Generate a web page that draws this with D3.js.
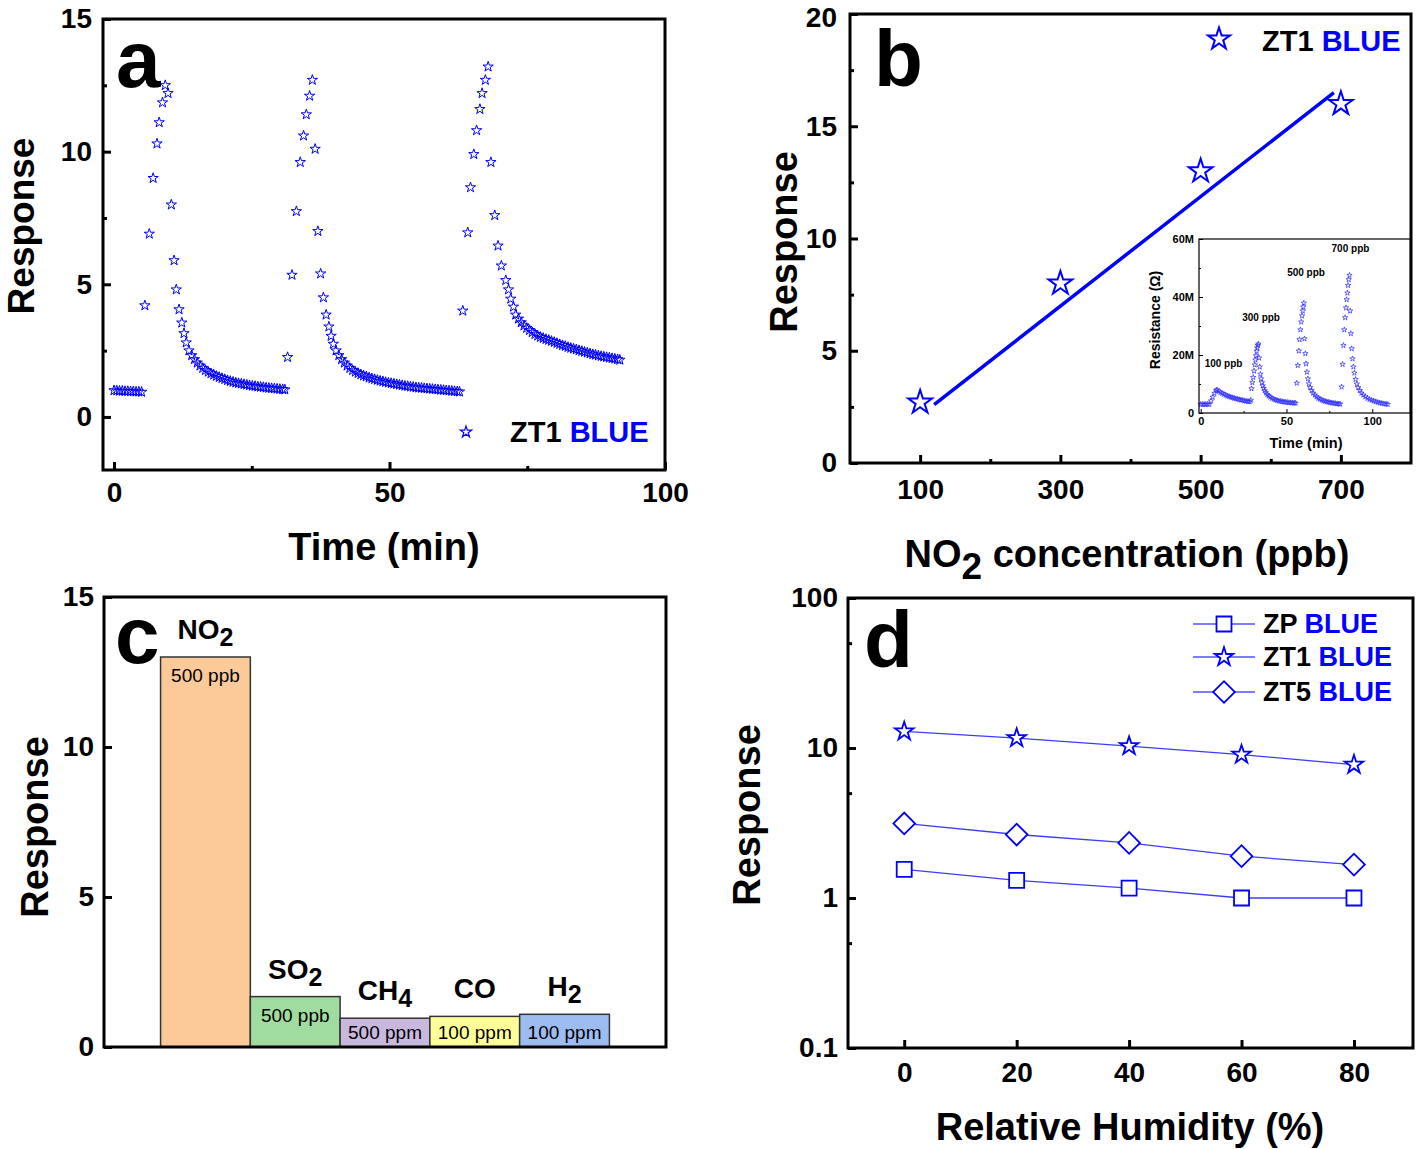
<!DOCTYPE html>
<html>
<head>
<meta charset="utf-8">
<script src="https://cdn.jsdelivr.net/npm/d3@7"></script>
<style>
  body { margin: 0; background: #fff; }
  svg { display: block; }
</style>
</head>
<body>
<svg id="chart" width="1418" height="1149"></svg>
<script>
// ---- panel a : response vs time, ZT1 BLUE (three NO2 pulses) ----
var cycleA1 = [[0,1.00],[0.5,0.99],[1,0.98],[1.5,0.98],[2,0.97],[2.5,0.97],[3,0.96],[3.5,0.96],[4,0.95],[4.5,0.95],[5,0.94],
  [5.6,4.2],[6.4,6.9],[7.1,9.0],[7.8,10.3],[8.2,11.1],[8.8,11.85],[9.3,12.5],[9.8,12.2],
  [10.4,8.0],[10.9,5.9],[11.3,4.8],[11.8,4.05],[12.3,3.55],[12.7,3.15],[13.1,2.8],[13.6,2.5],
  [14.1,2.32],[14.6,2.17],[15.1,2.04],[15.6,1.93],[16.1,1.84],[16.6,1.76],[17.1,1.70],[17.6,1.64],[18.1,1.59],[18.6,1.54],
  [19.1,1.50],[19.6,1.46],[20.1,1.42],[20.6,1.38],[21.1,1.35],[21.6,1.32],[22.1,1.29],[22.6,1.27],[23.1,1.25],[23.6,1.23],
  [24.1,1.21],[24.6,1.19],[25.1,1.17],[25.6,1.16],[26.1,1.14],[26.6,1.13],[27.1,1.12],[27.6,1.10],[28.1,1.09],[28.6,1.08],
  [29.1,1.07],[29.6,1.06],[30.1,1.05],[30.6,1.04],[31.0,1.03]];
var cycleA2 = [[31.5,2.25],[32.3,5.35],[33.1,7.75],[33.8,9.6],[34.4,10.6],[34.9,11.4],[35.5,12.1],[36.0,12.7],
  [36.5,10.1],[37.0,7.0],[37.5,5.4],[38.0,4.5],[38.5,3.85],[39.0,3.4],[39.4,3.05],[39.8,2.75],
  [40.3,2.5],[40.8,2.32],[41.3,2.17],[41.8,2.04],[42.3,1.93],[42.8,1.84],[43.3,1.76],[43.8,1.70],[44.3,1.65],[44.8,1.60],
  [45.3,1.56],[45.8,1.52],[46.3,1.48],[46.8,1.45],[47.3,1.42],[47.8,1.39],[48.3,1.36],[48.8,1.34],[49.3,1.31],[49.8,1.29],
  [50.3,1.27],[50.8,1.25],[51.3,1.23],[51.8,1.21],[52.3,1.19],[52.8,1.17],[53.3,1.16],[53.8,1.14],[54.3,1.13],[54.8,1.11],
  [55.3,1.10],[55.8,1.09],[56.3,1.08],[56.8,1.07],[57.3,1.06],[57.8,1.05],[58.3,1.04],[58.8,1.03],[59.3,1.02],[59.8,1.01],
  [60.3,1.00],[60.8,0.99],[61.3,0.98],[61.8,0.97],[62.3,0.96],[62.7,0.95]];
var cycleA3 = [[63.3,4.0],[64.2,6.95],[64.7,8.65],[65.3,9.9],[65.8,10.8],[66.4,11.6],[66.8,12.2],[67.4,12.7],[67.9,13.2],
  [68.4,9.6],[69.1,7.6],[69.7,6.45],[70.3,5.7],[71.1,5.15],[71.6,4.8],[72.0,4.45],[72.5,4.15],[72.9,3.85],
  [73.4,3.70],[73.9,3.56],[74.4,3.44],[74.9,3.35],[75.4,3.27],[75.9,3.19],[76.4,3.12],[76.9,3.06],[77.4,3.01],[77.9,2.97],
  [78.4,2.93],[78.9,2.90],[79.4,2.86],[79.9,2.82],[80.4,2.78],[80.9,2.74],[81.4,2.70],[81.9,2.67],[82.4,2.63],[82.9,2.60],
  [83.4,2.57],[83.9,2.54],[84.4,2.51],[84.9,2.48],[85.4,2.45],[85.9,2.42],[86.4,2.39],[86.9,2.36],[87.4,2.34],[87.9,2.31],
  [88.4,2.29],[88.9,2.27],[89.4,2.25],[89.9,2.23],[90.4,2.21],[90.9,2.19],[91.4,2.17],[91.8,2.15]];

// ---- panel b : response vs NO2 concentration ----
var ppbB = [100, 300, 500, 700];
var respB = [2.7, 8.0, 13.0, 16.0];
var fitB = [[120, 2.6], [690, 16.5]];

// inset of panel b : resistance (MOhm) vs time (min)
var insetC1 = [[0,3.0],[1,3.0],[2,3.0],[3,3.0],[4,3.0],[5,3.0],[6,4.2],[7,5.5],[8,6.8],[9,7.8],[9.5,8.0],
  [10.5,7.5],[11.5,7.1],[12.5,6.8],[13.5,6.5],[14.5,6.2],[15.5,5.9],[16.5,5.7],[17.5,5.5],[18.5,5.3],[19.5,5.1],
  [20.5,4.95],[21.5,4.8],[22.5,4.65],[23.5,4.5],[24.5,4.4],[25.5,4.25],[26.5,4.1],[27.5,4.0],[28.5,3.9]];
var insetC2 = [[29.2,4.4],[29.6,8.4],[30.1,10.5],[30.6,12.3],[31.1,14.5],[31.5,16.6],[31.9,18.3],[32.3,19.8],[32.6,21.3],
  [32.9,22.5],[33.3,23.3],[33.6,23.8],[34.0,19.0],[34.4,15.9],[34.8,13.4],[35.2,11.8],[35.7,10.5],[36.2,9.4],[36.7,8.5],
  [37.3,7.7],[38.0,7.0],[38.8,6.4],[39.6,5.9],[40.5,5.5],[41.5,5.1],[42.5,4.8],[43.5,4.55],[44.5,4.35],[45.5,4.2],
  [46.5,4.05],[47.5,3.95],[48.5,3.85],[49.5,3.75],[50.5,3.7],[51.5,3.6],[52.5,3.55],[53.5,3.5],[54.5,3.45],[55.3,3.4]];
var insetC3 = [[56.0,10.3],[56.6,16.4],[57.2,21.4],[57.6,25.3],[58.1,28.7],[58.6,31.4],[59.1,33.5],[59.5,35.2],[59.8,36.6],
  [60.1,37.9],[60.5,25.6],[61.0,20.5],[61.4,17.0],[61.9,14.1],[62.5,11.8],[63.1,10.1],[63.8,8.8],[64.6,7.8],[65.5,6.9],
  [66.5,6.2],[67.5,5.6],[68.5,5.15],[69.5,4.8],[70.5,4.5],[71.5,4.25],[72.5,4.05],[73.5,3.9],[74.5,3.75],[75.5,3.6],
  [76.5,3.5],[77.5,3.4],[78.5,3.3],[79.5,3.2],[80.5,3.15],[81.3,3.1]];
var insetC4 = [[82.1,9.0],[82.7,16.8],[83.2,23.3],[83.7,28.7],[84.2,32.9],[84.7,36.3],[85.1,39.1],[85.5,41.4],[85.9,44.0],
  [86.3,46.0],[86.7,47.5],[87.1,35.2],[87.5,27.4],[88.0,22.2],[88.5,18.7],[89.0,15.9],[89.6,13.8],[90.3,11.6],[91.0,10.0],
  [91.8,8.8],[92.7,7.8],[93.7,6.9],[94.8,6.2],[96.0,5.6],[97.2,5.1],[98.4,4.7],[99.6,4.4],[100.8,4.15],[102.0,3.9],
  [103.2,3.7],[104.4,3.5],[105.6,3.35],[106.8,3.2],[108.0,3.1],[109.0,3.0]];
var insetNotes = [["100 ppb", 13.3, 17.2], ["300 ppb", 35.2, 32.8], ["500 ppb", 61.4, 48.3], ["700 ppb", 87.3, 56.6]];

// ---- panel c : selectivity ----
var gases = ["NO2", "SO2", "CH4", "CO", "H2"];
var gasMain = ["NO", "SO", "CH", "CO", "H"];
var gasSub = ["2", "2", "4", "", "2"];
var respC = [13.0, 1.68, 0.96, 1.02, 1.09];
var concC = ["500 ppb", "500 ppb", "500 ppm", "100 ppm", "100 ppm"];
var colorC = ["#fcc999", "#a0dca0", "#c9b8de", "#ffff99", "#9dbcf0"];

// ---- panel d : humidity ----
var rh = [0, 20, 40, 60, 80];
var respZP = [1.55, 1.31, 1.165, 1.0, 1.0];
var respZT1 = [12.9, 11.65, 10.3, 9.03, 7.74];
var respZT5 = [3.14, 2.65, 2.33, 1.90, 1.67];

var BLUE = '#0000ff';
var FONT = '"Liberation Sans", Arial, Helvetica, sans-serif';
var svg = d3.select('#chart').attr('font-family', FONT);

function styleAxis(ax, o) {
    ax.attr('font-family', FONT).attr('font-size', o.fs).attr('font-weight', 'bold');
    ax.select('.domain').remove();
    ax.selectAll('.tick line').attr('stroke', '#000').attr('stroke-width', o.tickW);
    ax.selectAll('.tick text').attr('fill', '#000');
    return ax;
}

function drawAxes(g, x, y, o) {
    var xr = x.range(), yr = y.range();
    if (o.xTicks) {
        styleAxis(g.append('g').attr('transform', 'translate(0,' + yr[0] + ')')
            .call(d3.axisBottom(x).tickValues(o.xTicks).tickFormat(o.xFormat || String)
                .tickSizeInner(-o.major).tickSizeOuter(0).tickPadding(o.xPad)), o);
    }
    if (o.xMinor) {
        styleAxis(g.append('g').attr('transform', 'translate(0,' + yr[0] + ')')
            .call(d3.axisBottom(x).tickValues(o.xMinor).tickFormat('')
                .tickSizeInner(-o.minor).tickSizeOuter(0)), o);
    }
    var left = styleAxis(g.append('g').attr('transform', 'translate(' + xr[0] + ',0)')
        .call(d3.axisLeft(y).tickValues(o.yTicks).tickFormat(o.yFormat || String)
            .tickSizeInner(-o.major).tickSizeOuter(0).tickPadding(o.yPad)), o);
    if (o.yMinor) {
        styleAxis(g.append('g').attr('transform', 'translate(' + xr[0] + ',0)')
            .call(d3.axisLeft(y).tickValues(o.yMinor).tickFormat('')
                .tickSizeInner(-o.minor).tickSizeOuter(0)), o);
    }
    g.append('rect')
        .attr('x', xr[0]).attr('y', yr[1])
        .attr('width', xr[1] - xr[0]).attr('height', yr[0] - yr[1])
        .attr('fill', 'none').attr('stroke', '#000').attr('stroke-width', o.frameW);
    return left;
}

function title(g, txt, x, y, rotate, fs) {
    var t = g.append('text').attr('font-size', fs || 38).attr('font-weight', 'bold')
        .attr('text-anchor', 'middle').text(txt);
    t.attr('transform', 'translate(' + x + ',' + y + ')' + (rotate ? ' rotate(-90)' : ''));
    return t;
}

function letter(g, txt, x, y) {
    g.append('text').attr('x', x).attr('y', y).attr('font-size', 80)
        .attr('font-weight', 'bold').text(txt);
}

function legendLabel(g, name, x, y, fs) {
    var t = g.append('text').attr('x', x).attr('y', y).attr('font-size', fs)
        .attr('font-weight', 'bold').style('white-space', 'pre');
    t.append('tspan').attr('fill', '#000').text(name + ' ');
    t.append('tspan').attr('fill', BLUE).text('BLUE');
}

var star = d3.symbol().type(d3.symbolStar);
var square = d3.symbol().type(d3.symbolSquare);

// ================= panel a =================
(function () {
    var g = svg.append('g');
    var x = d3.scaleLinear().domain([-2, 100]).range([103, 665]);
    var y = d3.scaleLinear().domain([-2, 15]).range([470, 19]);

    g.append('g').selectAll('path')
        .data(cycleA1.concat(cycleA2, cycleA3))
        .join('path')
        .attr('d', star.size(33)())
        .attr('transform', function (d) { return 'translate(' + x(d[0]) + ',' + y(d[1]) + ')'; })
        .attr('fill', 'none').attr('stroke', BLUE).attr('stroke-width', 1);

    drawAxes(g, x, y, {
        xTicks: [0, 50, 100], xMinor: [25, 75], yTicks: [0, 5, 10, 15], yMinor: [2.5, 7.5, 12.5],
        fs: 28, xPad: 12, yPad: 11, major: 8, minor: 4, tickW: 3, frameW: 3
    });

    g.append('path').attr('d', star.size(40)())
        .attr('transform', 'translate(466,432)')
        .attr('fill', 'none').attr('stroke', BLUE).attr('stroke-width', 1.2);
    legendLabel(g, 'ZT1', 510, 442, 29);

    letter(g, 'a', 116, 87);
    title(g, 'Response', 34, 226, true, 37);
    title(g, 'Time (min)', 384, 560, false);
})();

// ================= panel b =================
(function () {
    var g = svg.append('g');
    var x = d3.scaleLinear().domain([0, 800]).range([850, 1411]);
    var y = d3.scaleLinear().domain([0, 20]).range([463, 14]);

    g.append('path').datum(fitB)
        .attr('d', d3.line().x(function (d) { return x(d[0]); }).y(function (d) { return y(d[1]); }))
        .attr('fill', 'none').attr('stroke', BLUE).attr('stroke-width', 3.5);

    g.append('g').selectAll('path')
        .data(ppbB)
        .join('path')
        .attr('d', star.size(175)())
        .attr('transform', function (d, i) { return 'translate(' + x(d) + ',' + y(respB[i]) + ')'; })
        .attr('fill', 'none').attr('stroke', BLUE).attr('stroke-width', 2);

    var left = drawAxes(g, x, y, {
        xTicks: [100, 300, 500, 700], xMinor: [200, 400, 600], yTicks: [0, 5, 10, 15, 20],
        yMinor: [2.5, 7.5, 12.5, 17.5],
        fs: 28, xPad: 16, yPad: 13, major: 8, minor: 4, tickW: 3, frameW: 3
    });
    // the top label sits a little lower so it stays inside the page
    left.selectAll('.tick text').filter(function (d) { return d === 20; }).attr('dy', '0.44em');

    g.append('path').attr('d', star.size(150)())
        .attr('transform', 'translate(1219,39)')
        .attr('fill', 'none').attr('stroke', BLUE).attr('stroke-width', 2);
    legendLabel(g, 'ZT1', 1262, 51, 29);

    letter(g, 'b', 874, 86);
    title(g, 'Response', 797, 242, true);
    var t = g.append('text').attr('font-size', 38).attr('font-weight', 'bold')
        .attr('text-anchor', 'middle').attr('x', 1127).attr('y', 567);
    t.append('tspan').text('NO');
    t.append('tspan').attr('font-size', 37).attr('dy', 12).text('2');
    t.append('tspan').attr('dy', -12).text(' concentration (ppb)');

    // inset
    var gi = g.append('g');
    var xi = d3.scaleLinear().domain([-1, 122]).range([1199, 1410]);
    var yi = d3.scaleLinear().domain([0, 60]).range([413, 239]);
    gi.append('rect').attr('x', 1199).attr('y', 239).attr('width', 211).attr('height', 174).attr('fill', '#fff');

    gi.append('g').selectAll('path')
        .data(insetC1.concat(insetC2, insetC3, insetC4))
        .join('path')
        .attr('d', star.size(9)())
        .attr('transform', function (d) { return 'translate(' + xi(d[0]) + ',' + yi(d[1]) + ')'; })
        .attr('fill', 'none').attr('stroke', '#2a2aff').attr('stroke-width', 0.7);

    drawAxes(gi, xi, yi, {
        xTicks: [0, 50, 100], xMinor: [25, 75], yTicks: [0, 20, 40, 60], yMinor: [10, 30, 50],
        yFormat: function (d) { return d === 0 ? '0' : d + 'M'; },
        fs: 11, xPad: 4, yPad: 5, major: 4, minor: 2, tickW: 1, frameW: 1.2
    });

    gi.selectAll('text.note').data(insetNotes).join('text')
        .attr('class', 'note')
        .attr('x', function (d) { return xi(d[1]); })
        .attr('y', function (d) { return yi(d[2]); })
        .attr('dy', '0.35em').attr('text-anchor', 'middle')
        .attr('font-size', 10).attr('font-weight', 'bold').text(function (d) { return d[0]; });

    gi.append('text').attr('x', 1306).attr('y', 448).attr('text-anchor', 'middle')
        .attr('font-size', 14.5).attr('font-weight', 'bold').text('Time (min)');
    gi.append('text').attr('transform', 'translate(1160,320) rotate(-90)').attr('text-anchor', 'middle')
        .attr('font-size', 14).attr('font-weight', 'bold').text('Resistance (\u03A9)');
})();

// ================= panel c =================
(function () {
    var g = svg.append('g');
    var x = d3.scaleBand().domain(gases).range([104, 666]).paddingInner(0).paddingOuter(0.63);
    var y = d3.scaleLinear().domain([0, 15]).range([1047, 597]);

    g.append('g').selectAll('rect')
        .data(gases)
        .join('rect')
        .attr('x', function (d) { return x(d); })
        .attr('y', function (d, i) { return y(respC[i]); })
        .attr('width', x.bandwidth())
        .attr('height', function (d, i) { return y(0) - y(respC[i]); })
        .attr('fill', function (d, i) { return colorC[i]; })
        .attr('stroke', '#333').attr('stroke-width', 1.5);

    g.append('g').selectAll('text')
        .data(gases)
        .join('text')
        .attr('x', function (d) { return x(d) + x.bandwidth() / 2; })
        .attr('y', function (d, i) { return Math.min(y(respC[i]) + 25, y(0) - 8); })
        .attr('text-anchor', 'middle').attr('font-size', 19).attr('fill', '#000')
        .text(function (d, i) { return concC[i]; });

    var names = g.append('g').selectAll('text')
        .data(gases)
        .join('text')
        .attr('x', function (d) { return x(d) + x.bandwidth() / 2; })
        .attr('y', function (d, i) { return y(respC[i]) - 18; })
        .attr('text-anchor', 'middle').attr('font-size', 28).attr('font-weight', 'bold');
    names.append('tspan').text(function (d, i) { return gasMain[i]; });
    names.append('tspan').attr('font-size', 25).attr('dy', 7).text(function (d, i) { return gasSub[i]; });

    drawAxes(g, x, y, {
        yTicks: [0, 5, 10, 15], fs: 28, yPad: 10, major: 8, minor: 4, tickW: 3, frameW: 3
    });

    letter(g, 'c', 115, 663);
    title(g, 'Response', 48, 827, true);
})();

// ================= panel d =================
(function () {
    var g = svg.append('g');
    var x = d3.scaleLinear().domain([-10, 90.5]).range([848, 1413]);
    var y = d3.scaleLog().domain([0.1, 100]).range([1048, 598]);
    var line = d3.line().x(function (d, i) { return x(rh[i]); }).y(function (d) { return y(d); });

    var series = [
        { v: respZP, d: square.size(225)(), rot: 0 },
        { v: respZT1, d: star.size(106)(), rot: 0 },
        { v: respZT5, d: square.size(235)(), rot: 45 }
    ];

    series.forEach(function (s) {
        g.append('path').datum(s.v).attr('d', line)
            .attr('fill', 'none').attr('stroke', '#3c3cff').attr('stroke-width', 1.3);
    });
    series.forEach(function (s) {
        g.append('g').selectAll('path').data(s.v).join('path')
            .attr('d', s.d)
            .attr('transform', function (d, i) {
                return 'translate(' + x(rh[i]) + ',' + y(d) + ') rotate(' + s.rot + ')';
            })
            .attr('fill', '#fff').attr('stroke', BLUE).attr('stroke-width', 1.8);
    });

    drawAxes(g, x, y, {
        xTicks: rh, yTicks: [0.1, 1, 10, 100], yMinor: [0.5, 5, 50],
        fs: 28, xPad: 14, yPad: 10, major: 8, minor: 4, tickW: 3, frameW: 3
    });

    var names = ['ZP', 'ZT1', 'ZT5'];
    var rowY = [624, 657, 692];
    series.forEach(function (s, i) {
        g.append('line').attr('x1', 1193).attr('x2', 1255).attr('y1', rowY[i]).attr('y2', rowY[i])
            .attr('stroke', '#5050ff').attr('stroke-width', 1.3);
        g.append('path').attr('d', s.d)
            .attr('transform', 'translate(1224,' + rowY[i] + ') rotate(' + s.rot + ')')
            .attr('fill', '#fff').attr('stroke', BLUE).attr('stroke-width', 1.8);
        legendLabel(g, names[i], 1263, rowY[i] + 9, 27);
    });

    letter(g, 'd', 864, 667);
    title(g, 'Response', 760, 815, true);
    title(g, 'Relative Humidity (%)', 1130, 1140, false);
})();
</script>
</body>
</html>
